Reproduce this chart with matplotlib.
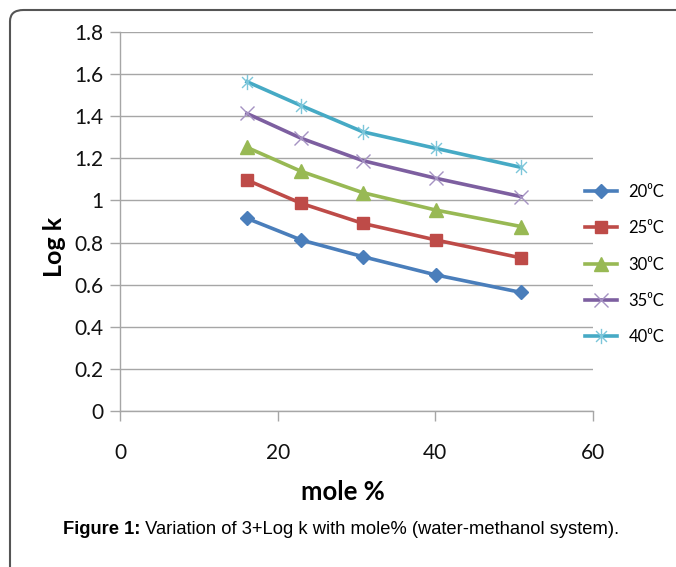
import matplotlib
matplotlib.use('Agg')
import matplotlib.pyplot as plt
from matplotlib.path import Path
from matplotlib.patches import FancyBboxPatch

# mole % of methanol
mole_pct = [16.1, 23.0, 30.8, 40.1, 50.9]

# 3 + log k at each temperature
logk_20 = [0.915, 0.812, 0.733, 0.646, 0.563]
logk_25 = [1.097, 0.986, 0.891, 0.812, 0.727]
logk_30 = [1.252, 1.138, 1.037, 0.954, 0.876]
logk_35 = [1.413, 1.295, 1.189, 1.105, 1.018]
logk_40 = [1.564, 1.450, 1.326, 1.247, 1.157]

labels = ['20\u2070C', '25\u2070C', '30\u2070C', '35\u2070C', '40\u2070C']
y_ticks = [0, 0.2, 0.4, 0.6, 0.8, 1, 1.2, 1.4, 1.6, 1.8]
y_ticklabels = ['0', '0.2', '0.4', '0.6', '0.8', '1', '1.2', '1.4', '1.6', '1.8']
x_ticks = [0, 20, 40, 60]

W, H = 676, 567

# excel style asterisk marker (x with a vertical bar)
star = Path([(-1, -1), (1, 1), (-1, 1), (1, -1), (0, -1.4), (0, 1.4)],
            [Path.MOVETO, Path.LINETO, Path.MOVETO, Path.LINETO, Path.MOVETO, Path.LINETO])

styles = [
    dict(color='#4A7EBB', marker='D', ms=7, mfc='#4A7EBB', mec='#4A7EBB'),
    dict(color='#BE4B48', marker='s', ms=9, mfc='#BE4B48', mec='#BE4B48'),
    dict(color='#98B954', marker='^', ms=10, mfc='#98B954', mec='#98B954'),
    dict(color='#7D5FA0', marker='x', ms=10, mec='#A592C2', mew=1.0),
    dict(color='#46AAC5', marker=star, ms=11, mec='#7CC6DA', mew=1.0),
]

fig = plt.figure(figsize=(W / 100, H / 100), dpi=100)
ax = fig.add_axes([120 / W, 1 - 411 / H, (593 - 120) / W, (411 - 32) / H])

series = [logk_20, logk_25, logk_30, logk_35, logk_40]
handles = []
for vals, lab, st in zip(series, labels, styles):
    h, = ax.plot(mole_pct, vals, lw=2.6, label=lab, zorder=3, **st)
    handles.append(h)

ax.set_xlim(0, 60)
ax.set_ylim(0, 1.8)
ax.set_xticks(x_ticks)
ax.set_yticks(y_ticks)
ax.set_yticklabels(y_ticklabels)
ax.grid(axis='y', color='#A6A6A6', lw=1.0)
ax.set_axisbelow(True)

for s in ['top', 'right']:
    ax.spines[s].set_visible(False)
for s in ['left', 'bottom']:
    ax.spines[s].set_color('#A6A6A6')
    ax.spines[s].set_linewidth(1.0)

ax.tick_params(axis='both', colors='#A6A6A6', length=7, width=1.0, labelcolor='#111111',
               labelsize=15)
ax.tick_params(axis='x', pad=16)
ax.tick_params(axis='y', pad=5)
for t in ax.get_xticklabels() + ax.get_yticklabels():
    t.set_family('Lato')

fig.text(343 / W, 1 - 492 / H, 'mole %', ha='center', va='center',
         fontsize=18.5, fontweight='bold', family='Lato')
fig.text(55 / W, 1 - 247 / H, 'Log k', ha='center', va='center', rotation=90,
         fontsize=18, fontweight='bold', family='Lato')

leg = fig.legend(handles=handles, loc='upper left', bbox_to_anchor=(570 / W, 1 - 169 / H),
                 frameon=False, handlelength=1.9, labelspacing=1.22,
                 handletextpad=0.7, prop={'family': 'Lato', 'size': 12})

# caption: bold prefix followed by regular text
cap = fig.text(63 / W, 1 - 530 / H, 'Figure 1:', ha='left', va='center',
               fontsize=13.2, fontweight='bold', family='Liberation Sans')
ax.annotate(' Variation of 3+Log k with mole% (water-methanol system).',
            xy=(1, 0.5), xycoords=cap, ha='left', va='center',
            fontsize=13.2, family='Liberation Sans', annotation_clip=False)

# page frame with rounded top-left corner
frame = FancyBboxPatch((10 / W, -0.1), 1.2, 1.1 - 10 / H,
                       boxstyle='round,pad=0,rounding_size=0.02',
                       transform=fig.transFigure, fill=False,
                       ec='#555555', lw=1.5, clip_on=False)
fig.patches.append(frame)

fig.savefig('out.png', dpi=100)
